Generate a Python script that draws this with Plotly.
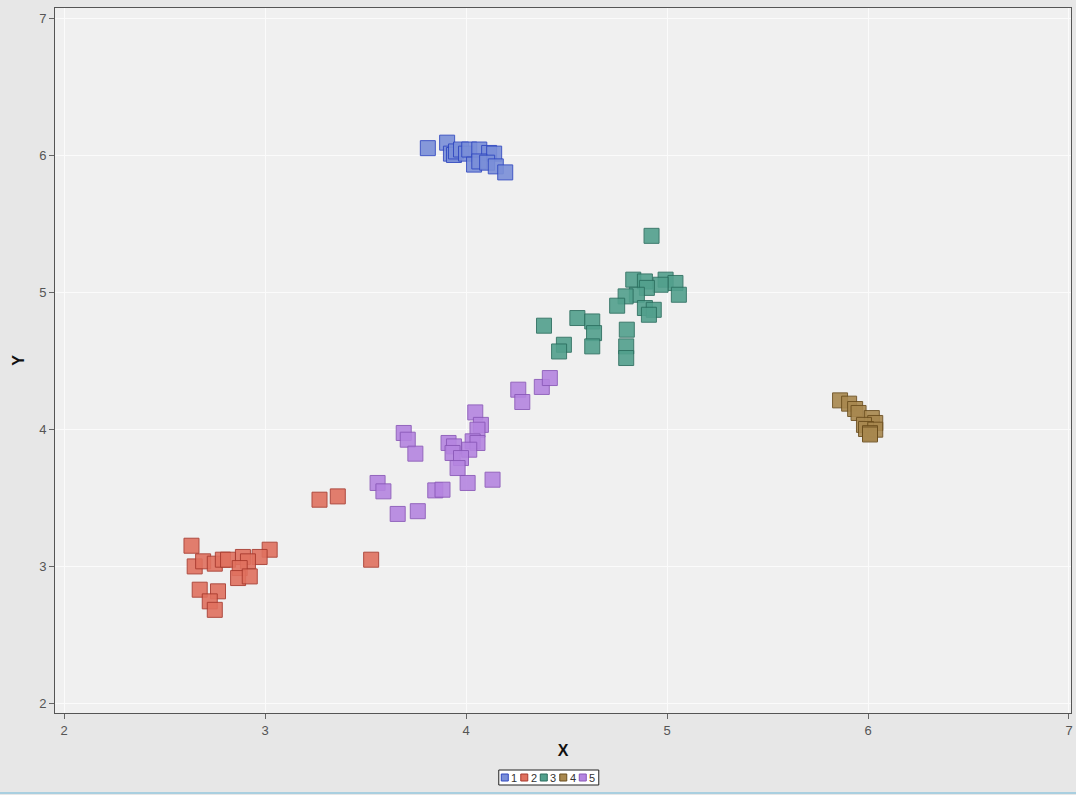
import plotly.graph_objects as go

# Cluster members (X, Y)
c1_x = [3.81, 3.906, 3.925, 3.94, 3.95, 3.975, 4.0, 4.016, 4.066, 4.04, 4.115, 4.14, 4.066, 4.105, 4.148, 4.195]
c1_y = [6.05, 6.09, 6.01, 6.0, 6.026, 6.04, 6.01, 6.04, 6.04, 5.93, 6.015, 6.01, 5.953, 5.944, 5.917, 5.873]

c2_x = [3.271, 3.362, 3.528, 2.634, 3.023, 2.65, 2.692, 2.75, 2.79, 2.816, 2.89, 2.973, 2.915, 2.874, 2.866, 2.924, 2.675, 2.766, 2.725, 2.75]
c2_y = [3.484, 3.508, 3.046, 3.148, 3.119, 2.997, 3.034, 3.017, 3.046, 3.046, 3.066, 3.066, 3.034, 2.985, 2.912, 2.924, 2.827, 2.815, 2.742, 2.68]

c3_x = [4.923, 4.832, 4.89, 4.993, 5.042, 4.968, 5.059, 4.90, 4.85, 4.794, 4.752, 4.89, 4.934, 4.91, 4.554, 4.628, 4.637, 4.388, 4.80, 4.487, 4.463, 4.628, 4.797, 4.797]
c3_y = [5.41, 5.09, 5.077, 5.09, 5.066, 5.053, 4.98, 5.03, 4.98, 4.968, 4.90, 4.883, 4.87, 4.834, 4.81, 4.785, 4.70, 4.754, 4.725, 4.615, 4.566, 4.603, 4.603, 4.518]

c4_x = [5.861, 5.906, 5.936, 5.953, 6.019, 6.036, 5.98, 5.99, 6.036, 6.01, 6.01]
c4_y = [4.209, 4.185, 4.146, 4.117, 4.08, 4.044, 4.03, 4.0, 3.995, 3.97, 3.96]

c5_x = [4.26, 4.28, 4.377, 4.417, 4.046, 4.074, 4.057, 4.033, 4.057, 4.016, 3.913, 3.94, 3.933, 3.975, 3.958, 4.008, 4.132, 3.69, 3.71, 3.748, 3.56, 3.589, 3.847, 3.883, 3.66, 3.76]
c5_y = [4.287, 4.197, 4.307, 4.372, 4.121, 4.03, 3.995, 3.91, 3.898, 3.849, 3.898, 3.873, 3.825, 3.788, 3.715, 3.606, 3.63, 3.971, 3.922, 3.82, 3.606, 3.545, 3.552, 3.557, 3.38, 3.40]

labels = ["1", "2", "3", "4", "5"]
fills = ["#7a8fd8", "#e0715f", "#52a08d", "#a8884f", "#b585e0"]
edges = ["#3048c0", "#a83a2e", "#2b6e5f", "#6b4e1e", "#8a58b8"]

series = [(c1_x, c1_y), (c2_x, c2_y), (c3_x, c3_y), (c4_x, c4_y), (c5_x, c5_y)]

fig = go.Figure()
for (xs, ys), name, fc, ec in zip(series, labels, fills, edges):
    fig.add_trace(go.Scatter(
        x=xs, y=ys, mode="markers", name=name,
        marker=dict(symbol="square", size=15, color=fc, opacity=0.9,
                    line=dict(color=ec, width=1)),
        showlegend=False,
    ))

# Compact boxed legend below the X title
legend_x = 0.486
legend_y = -0.0915
shapes = [dict(type="rect", xref="paper", yref="paper",
               xsizemode="pixel", ysizemode="pixel",
               xanchor=legend_x, yanchor=legend_y,
               x0=-50, x1=50, y0=-7.5, y1=7.5,
               line=dict(color="#222222", width=1), fillcolor="#ffffff")]
annotations = []
for i, (name, fc, ec) in enumerate(zip(labels, fills, edges)):
    cx = -44 + i * 19.5
    shapes.append(dict(type="rect", xref="paper", yref="paper",
                       xsizemode="pixel", ysizemode="pixel",
                       xanchor=legend_x, yanchor=legend_y,
                       x0=cx - 3.5, x1=cx + 3.5, y0=-3.5, y1=3.5,
                       line=dict(color=ec, width=1), fillcolor=fc))
    annotations.append(dict(text=name, xref="paper", yref="paper",
                            x=legend_x, y=legend_y, xshift=cx + 9.5,
                            showarrow=False, xanchor="center", yanchor="middle",
                            font=dict(family="Liberation Sans, Arial", size=11, color="#333333")))

# Thin accent line along the bottom edge
shapes.append(dict(type="line", xref="paper", yref="paper",
                   x0=-0.06, x1=1.01, y0=-0.1135, y1=-0.1135,
                   line=dict(color="#a9cfe0", width=2)))

fig.update_layout(
    width=1076, height=795,
    margin=dict(l=55, r=3, t=8, b=82),
    paper_bgcolor="#e7e7e7",
    plot_bgcolor="#f0f0f0",
    font=dict(family="Liberation Sans, Arial", size=13, color="#555555"),
    shapes=shapes,
    annotations=annotations,
    xaxis=dict(
        range=[1.955, 7.01], tickvals=[2, 3, 4, 5, 6, 7],
        showgrid=True, gridcolor="#fbfbfb", gridwidth=1, zeroline=False,
        showline=True, linecolor="#555555", linewidth=1, mirror=True,
        ticks="outside", ticklen=5, tickcolor="#666666",
        title=dict(text="<b>X</b>", font=dict(size=16, color="#111111"), standoff=8),
    ),
    yaxis=dict(
        range=[1.927, 7.073], tickvals=[2, 3, 4, 5, 6, 7],
        showgrid=True, gridcolor="#fbfbfb", gridwidth=1, zeroline=False,
        showline=True, linecolor="#555555", linewidth=1, mirror=True,
        ticks="outside", ticklen=5, tickcolor="#666666",
        title=dict(text="<b>Y</b>", font=dict(size=16, color="#111111"), standoff=10),
    ),
)

fig.write_html("out.html")
